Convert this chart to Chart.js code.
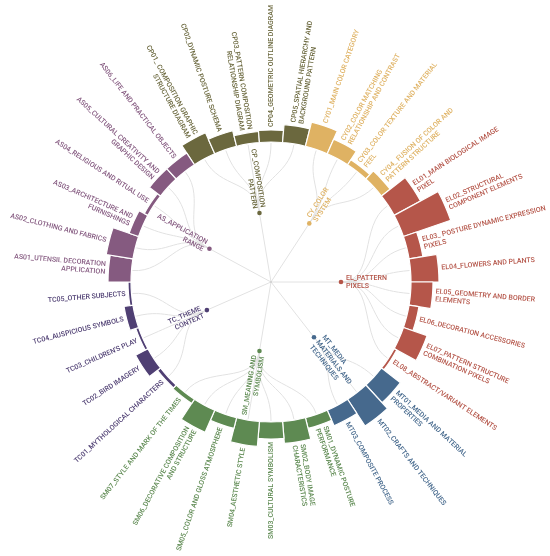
<!DOCTYPE html>
<html>
<head>
<meta charset="utf-8">
<script src="https://cdn.jsdelivr.net/npm/chart.js@4/dist/chart.umd.min.js"></script>
<style>
  html, body { margin: 0; padding: 0; background: #fff; }
</style>
</head>
<body>
<canvas id="Chart" width="550" height="556"></canvas>
<script>
'use strict';
// ********************* DATA *********************

let groupCodes = ['CP', 'CY', 'EL', 'MT', 'SM', 'TC', 'AS'];
let groupNames = [
  ['CP_COMPOSITION', 'PATTERN'],
  ['CY_COLOR', 'SYSTEM'],
  ['EL_PATTERN', 'PIXELS'],
  ['MT_MEDIA', 'MATERIALS AND', 'TECHNIQUES'],
  ['SM_MEANING AND', 'SYMBOLISM'],
  ['TC_THEME', 'CONTEXT'],
  ['AS_APPLICATION', 'RANGE']
];
let groupColors = ['#6b683e', '#dfb263', '#b5564a', '#46698d', '#5e8a52', '#4f3f73', '#855a80'];

let cpLabels = [
  ['CP01_ COMPOSITION GRAPHIC', 'STRUCTURE DIAGRAM'],
  ['CP02_DYNAMIC POSTURE SCHEMA'],
  ['CP03_PATTERN COMPOSITION', 'RELATIONSHIP DIAGRAM'],
  ['CP04_GEOMETRIC OUTLINE DIAGRAM'],
  ['CP05_SPATIAL HIERARCHY AND', 'BACKGROUND PATTERN']
];
let cpValues = [23, 16, 11, 12, 18];

let cyLabels = [
  ['CY01_MAIN COLOR CATEGORY'],
  ['CY02_COLOR MATCHING', 'RELATIONSHIP AND CONTRAST'],
  ['CY03_COLOR TEXTURE AND MATERIAL', 'FEEL'],
  ['CY04_ FUSION OF COLOR AND', 'PATTERN STRUCTURE']
];
let cyValues = [25, 16, 6, 11];

let elLabels = [
  ['EL01_MAIN BIOLOGICAL IMAGE', 'PIXEL'],
  ['EL02_STRUCTURAL', 'COMPONENT ELEMENTS'],
  ['EL03_ POSTURE DYNAMIC EXPRESSION', 'PIXELS'],
  ['EL04_FLOWERS AND PLANTS'],
  ['EL05_GEOMETRY AND BORDER', 'ELEMENTS'],
  ['EL06_DECORATION ACCESSORIES'],
  ['EL07_PATTERN STRUCTURE', 'COMBINATION PIXELS'],
  ['EL08_ABSTRACT/VARIANT ELEMENTS']
];
let elValues = [30, 50, 14, 28, 22, 10, 25, 3];

let mtLabels = [
  ['MT01_MEDIA AND MATERIAL', 'PROPERTIES'],
  ['MT02_CRAFTS AND TECHNIQUES'],
  ['MT03_COMPOSITE PROCESS']
];
let mtValues = [24, 32, 17];

let smLabels = [
  ['SM01_DYNAMIC POSTURE', 'PERFORMANCE'],
  ['SM02_BODY IMAGE', 'CHARACTERISTICS'],
  ['SM03_CULTURAL SYMBOLISM'],
  ['SM04_AESTHETIC STYLE'],
  ['SM05_COLOR AND GLOSS ATMOSPHERE'],
  ['SM06_DECORATIVE COMPOSITION', 'AND STRUCTURE'],
  ['SM07_STYLE AND MARK OF THE TIMES']
];
let smValues = [11, 22, 17, 25, 11, 24, 5];

let tcLabels = [
  ['TC01_MYTHOLOGICAL CHARACTERS'],
  ['TC02_BIRD IMAGERY'],
  ['TC03_CHILDREN\'S PLAY'],
  ['TC04_AUSPICIOUS SYMBOLS'],
  ['TC05_OTHER SUBJECTS']
];
let tcValues = [4, 14, 3, 9, 3];

let asLabels = [
  ['AS01_UTENSIL DECORATION', 'APPLICATION'],
  ['AS02_CLOTHING AND FABRICS'],
  ['AS03_ARCHITECTURE AND', 'FURNISHINGS'],
  ['AS04_RELIGIOUS AND RITUAL USE'],
  ['AS05_CULTURAL CREATIVITY AND', 'GRAPHIC DESIGN'],
  ['AS06_LIFE AND PRACTICAL OBJECTS']
];
let asValues = [23, 27, 10, 4, 14, 14];

// radial axis: value 0 sits on the inner ring
let axisMin = -140;
let axisMax = 60;

// ********************* BUILD ARRAYS *********************

let canvasElem = document.getElementById('Chart');

let allLabels = [cpLabels, cyLabels, elLabels, mtLabels, smLabels, tcLabels, asLabels];
let allValues = [cpValues, cyValues, elValues, mtValues, smValues, tcValues, asValues];

let leafLines = [];
let leafValues = [];
let leafColors = [];
let leafGroup = [];
allLabels.forEach((list, g) => {
  list.forEach((lines, i) => {
    leafLines.push(lines);
    leafValues.push(allValues[g][i]);
    leafColors.push(groupColors[g]);
    leafGroup.push(g);
  });
});

const FONT = '500 7px Roboto';
const LINE_H = 8;

// ********************* HELPERS *********************

function isFlipped(theta, n) {
  let a = theta + Math.PI / 2 + Math.PI / n;
  a = ((a % (2 * Math.PI)) + 2 * Math.PI) % (2 * Math.PI);
  return a >= Math.PI - 1e-6;
}

function drawRadialText(ctx, cx, cy, theta, r, lines, color, n) {
  const flip = isFlipped(theta, n);
  ctx.save();
  ctx.translate(cx, cy);
  ctx.rotate(flip ? theta + Math.PI : theta);
  ctx.fillStyle = color;
  ctx.font = FONT;
  ctx.textBaseline = 'middle';
  ctx.textAlign = flip ? 'right' : 'left';
  lines.forEach((line, i) => {
    ctx.fillText(line, flip ? -r : r, (i - (lines.length - 1) / 2) * LINE_H);
  });
  ctx.restore();
}

function polar(cx, cy, a, r) {
  return [cx + Math.cos(a) * r, cy + Math.sin(a) * r];
}

// ********************* RING + TREE PLUGIN *********************

const ringPlugin = {
  id: 'ringTree',
  beforeDatasetsDraw(chart) {
    const scale = chart.scales.r;
    const inner = scale.getDistanceFromCenterForValue(0);
    chart.getDatasetMeta(0).data.forEach(arc => { arc.innerRadius = inner; });
  },
  afterDatasetsDraw(chart) {
    const ctx = chart.ctx;
    const scale = chart.scales.r;
    const cx = scale.xCenter;
    const cy = scale.yCenter;
    const inner = scale.getDistanceFromCenterForValue(0);
    const nodeR = inner / 2;
    const arcs = chart.getDatasetMeta(0).data;
    const n = arcs.length;
    const mids = arcs.map(a => (a.startAngle + a.endAngle) / 2);

    // group angles = mean of their leaves
    const gAngles = groupCodes.map((c, g) => {
      const idx = [];
      leafGroup.forEach((lg, i) => { if (lg === g) idx.push(i); });
      return idx.reduce((s, i) => s + mids[i], 0) / idx.length;
    });

    // links
    ctx.save();
    ctx.strokeStyle = '#e2e2e2';
    ctx.lineWidth = 1;
    gAngles.forEach(ga => {
      const p = polar(cx, cy, ga, nodeR);
      ctx.beginPath();
      ctx.moveTo(cx, cy);
      ctx.lineTo(p[0], p[1]);
      ctx.stroke();
    });
    mids.forEach((la, i) => {
      const ga = gAngles[leafGroup[i]];
      const rm = (nodeR + inner) / 2;
      const p0 = polar(cx, cy, ga, nodeR);
      const c1 = polar(cx, cy, ga, rm);
      const c2 = polar(cx, cy, la, rm);
      const p1 = polar(cx, cy, la, inner - 1);
      ctx.beginPath();
      ctx.moveTo(p0[0], p0[1]);
      ctx.bezierCurveTo(c1[0], c1[1], c2[0], c2[1], p1[0], p1[1]);
      ctx.stroke();
    });
    ctx.fillStyle = '#cfcfcf';
    ctx.beginPath();
    ctx.arc(cx, cy, 1, 0, Math.PI * 2);
    ctx.fill();
    ctx.restore();

    // group nodes and labels
    gAngles.forEach((ga, g) => {
      const p = polar(cx, cy, ga, nodeR);
      ctx.save();
      ctx.fillStyle = groupColors[g];
      ctx.beginPath();
      ctx.arc(p[0], p[1], 2.3, 0, Math.PI * 2);
      ctx.fill();
      ctx.restore();
      drawRadialText(ctx, cx, cy, ga, nodeR + 5, groupNames[g], groupColors[g], n);
    });

    // leaf labels
    arcs.forEach((arc, i) => {
      drawRadialText(ctx, cx, cy, mids[i], arc.outerRadius + 3, leafLines[i], leafColors[i], n);
    });
  }
};

// ********************* THE CHART *********************

function renderChart() {
  const n = leafValues.length;
  let chartObj = {
    type: 'polarArea',
    data: {
      labels: leafLines.map(l => l.join(' ')),
      datasets: [{
        data: leafValues,
        backgroundColor: leafColors,
        borderColor: '#ffffff',
        borderWidth: 1.2
      }]
    },
    options: {
      responsive: false,
      animation: false,
      layout: { padding: { left: 71, right: 79, top: 82, bottom: 74 } },
      plugins: {
        legend: { display: false },
        tooltip: { enabled: false }
      },
      scales: {
        r: {
          display: false,
          min: axisMin,
          max: axisMax,
          startAngle: -3.5 * 360 / n
        }
      }
    },
    plugins: [ringPlugin]
  };
  new Chart(canvasElem, chartObj);
}

renderChart();
</script>
</body>
</html>
